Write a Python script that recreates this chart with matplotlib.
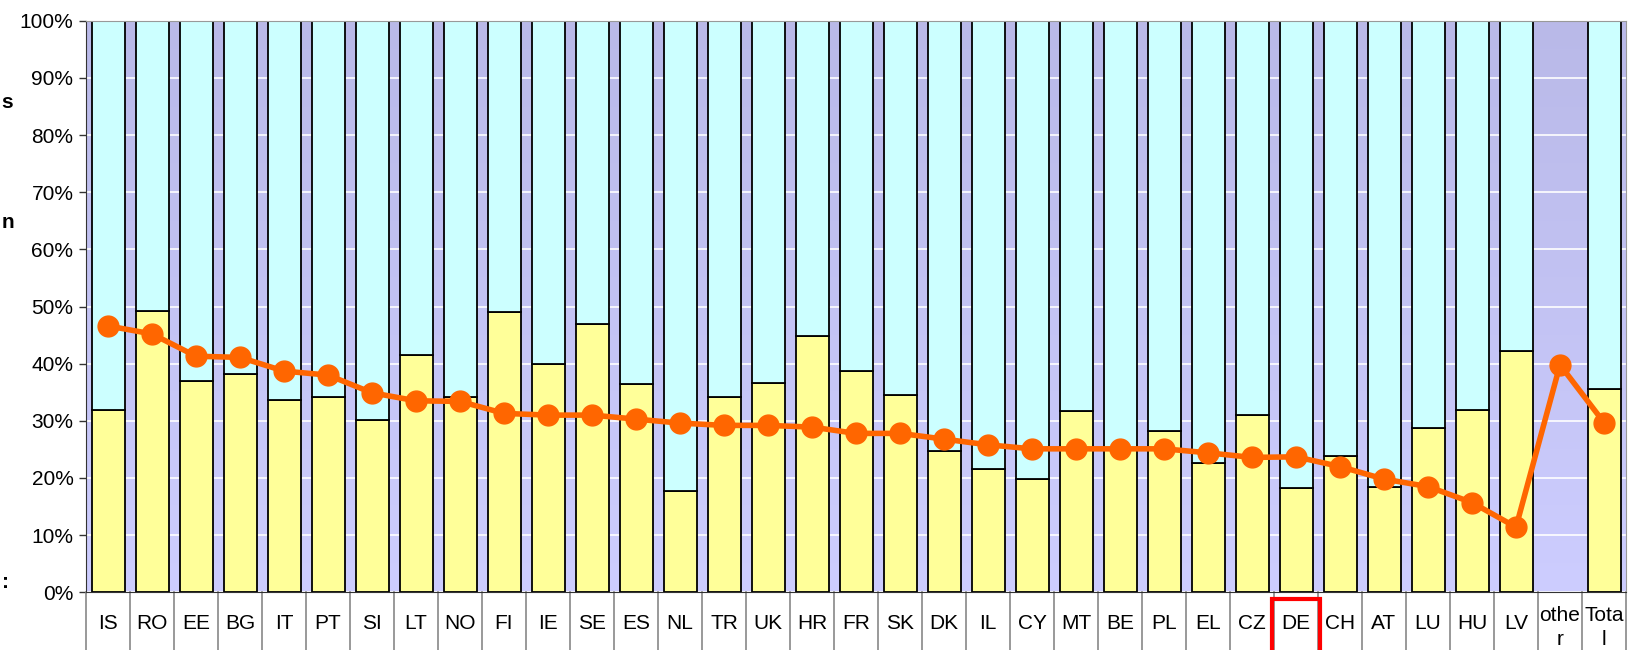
import numpy as np
import matplotlib.pyplot as plt
from matplotlib.patches import Rectangle

plt.rcParams['font.family'] = ['Liberation Sans', 'DejaVu Sans']

# categories (countries) in chart order
countries = ['IS', 'RO', 'EE', 'BG', 'IT', 'PT', 'SI', 'LT', 'NO', 'FI', 'IE', 'SE',
             'ES', 'NL', 'TR', 'UK', 'HR', 'FR', 'SK', 'DK', 'IL', 'CY', 'MT', 'BE',
             'PL', 'EL', 'CZ', 'DE', 'CH', 'AT', 'LU', 'HU', 'LV', 'othe\nr', 'Tota\nl']

# lower (yellow) share of each bar, in %; "other" has no bar
lower_share = [31.9, 49.3, 37.0, 38.2, 33.6, 34.2, 30.1, 41.6, 34.2, 49.0, 39.9, 46.9,
               36.4, 17.8, 34.2, 36.7, 44.8, 38.8, 34.6, 24.8, 21.6, 19.9, 31.8, 24.9,
               28.3, 22.7, 31.1, 18.2, 23.8, 18.5, 28.7, 31.9, 42.3, np.nan, 35.6]

# orange line values, in %
line_vals = [46.6, 45.2, 41.3, 41.1, 38.7, 38.0, 34.9, 33.5, 33.4, 31.3, 31.0, 31.0,
             30.3, 29.6, 29.2, 29.2, 28.9, 27.8, 27.8, 26.8, 25.8, 25.1, 25.1, 25.1,
             25.1, 24.4, 23.6, 23.7, 22.0, 19.8, 18.5, 15.7, 11.4, 39.8, 29.7]

highlight = 'DE'

x = np.arange(len(countries))
lower = np.array(lower_share)
upper = np.where(np.isnan(lower), np.nan, 100 - lower)

fig = plt.figure(figsize=(16.28, 6.5), dpi=100)
ax = fig.add_axes([86 / 1628, 57.7 / 650, 1540 / 1628, 571.6 / 650])

# gradient plot background
grad = np.linspace(0, 1, 256).reshape(-1, 1)
top_c = np.array([185, 185, 232]) / 255
bot_c = np.array([205, 205, 255]) / 255
img = top_c + (bot_c - top_c) * grad[:, :, None]
ax.imshow(img, extent=[-0.5, len(countries) - 0.5, 0, 100], aspect='auto',
          origin='upper', zorder=0)

ax.yaxis.grid(True, color='white', linewidth=1.2, zorder=1)
ax.set_axisbelow(True)

ax.bar(x, lower, width=0.75, color='#FFFF99', edgecolor='black', linewidth=1.3, zorder=2)
ax.bar(x, upper, width=0.75, bottom=lower, color='#CCFFFF', edgecolor='black',
       linewidth=1.3, zorder=2)

ax.plot(x, line_vals, color='#FF6600', linewidth=4, marker='o', markersize=15,
        zorder=3)

ax.set_xlim(-0.5, len(countries) - 0.5)
ax.set_ylim(0, 100)
ax.set_yticks(np.arange(0, 101, 10))
ax.set_yticklabels([f'{v}%' for v in range(0, 101, 10)], fontsize=15)
ax.tick_params(axis='y', length=5, width=1, color='#333333', pad=4)
ax.set_xticks([])

for s in ['top', 'right']:
    ax.spines[s].set_color('#999999')
ax.spines['left'].set_color('#333333')
ax.spines['bottom'].set_color('#333333')

# category table below the axis
for b in np.arange(-0.5, len(countries), 1.0):
    ax.plot([b, b], [0, -12], color='#888888', linewidth=1.2, clip_on=False, zorder=1)
for xi, name in zip(x, countries):
    if '\n' in name:
        ax.text(xi, -6.2, name, ha='center', va='center', fontsize=15,
                linespacing=1.3, clip_on=False)
    else:
        ax.text(xi, -5.4, name, ha='center', va='center', fontsize=15, clip_on=False)

hi = countries.index(highlight)
ax.add_patch(Rectangle((hi - 0.55, -12), 1.1, 10.8, fill=False, edgecolor='#FF0000',
                       linewidth=3, clip_on=False, zorder=4))

# axis title remnants on the left edge
fig.text(0.001, 1 - 103 / 650, 's', fontsize=15, fontweight='bold', va='center')
fig.text(0.001, 1 - 222 / 650, 'n', fontsize=15, fontweight='bold', va='center')
fig.text(0.001, 1 - 583 / 650, ':', fontsize=15, fontweight='bold', va='center')

fig.savefig('out.png', dpi=100)
